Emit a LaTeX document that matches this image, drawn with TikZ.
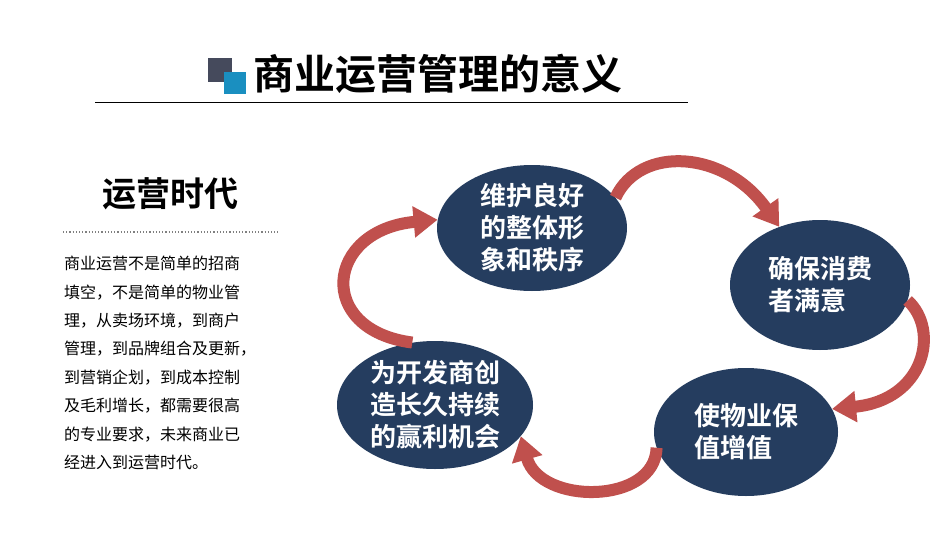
\documentclass[tikz,border=0pt]{standalone}
\usepackage{fontspec}
\setmainfont{Noto Sans CJK SC}
\newfontfamily\cjkb{Noto Sans CJK SC Bold}
\usetikzlibrary{arrows.meta,shapes.geometric}
\definecolor{navy}{HTML}{253D5F}
\definecolor{arr}{HTML}{C0504D}
\definecolor{sqg}{HTML}{454A5C}
\definecolor{sqb}{HTML}{1A8FC0}
\tikzset{
 oval/.style={ellipse,fill=navy,text=white,font=\cjkb\fontsize{26}{32}\selectfont,align=left,inner sep=0pt},
 ring/.style={arr,line width=12pt,-{Triangle[width=30pt,length=24pt]}},
}
\begin{document}
\begin{tikzpicture}[x=1pt,y=-1pt]
\useasboundingbox (0,0) rectangle (950,535);
\fill[white] (0,0) rectangle (950,535);
% header
\fill[sqg] (208,58) rectangle (232,82);
\fill[sqb] (224,72) rectangle (246,94);
\node[font=\cjkb\fontsize{41}{44}\selectfont,anchor=west] (title) at (250,74) {商业运营管理的意义};
\draw[line width=0.8pt] (95,102) -- (688,102);
% left text
\node[font=\cjkb\fontsize{34}{38}\selectfont] (era) at (170,194) {运营时代};
\draw[line width=1.2pt,dotted,gray] (63,232) -- (278,232);
\node[anchor=north west,align=left,font=\fontsize{16}{28.4}\selectfont,inner sep=0pt] (para) at (64,256)
{商业运营不是简单的招商\\填空，不是简单的物业管\\理，从卖场环境，到商户\\管理，到品牌组合及更新，\\到营销企划，到成本控制\\及毛利增长，都需要很高\\的专业要求，未来商业已\\经进入到运营时代。};
% ellipses
\node[oval,minimum width=190,minimum height=126] (e1) at (532,228) {维护良好\\的整体形\\象和秩序};
\node[oval,minimum width=180,minimum height=130] (e2) at (820,285) {确保消费\\者满意};
\node[oval,minimum width=184,minimum height=128] (e3) at (746,432) {使物业保\\值增值};
\node[oval,minimum width=196,minimum height=128] (e4) at (435,405) {为开发商创\\造长久持续\\的赢利机会};
% arrows
\draw[ring] (e1.20) .. controls (640,145) and (725,150) .. (e2.125);
\draw[ring] (e2.-10) .. controls (940,330) and (925,400) .. (e3.15);
\draw[ring] (e3.190) .. controls (655,505) and (540,505) .. (e4.-20);
\draw[ring] (e4.110) .. controls (315,330) and (325,230) .. (e1.175);
\end{tikzpicture}
\end{document}
